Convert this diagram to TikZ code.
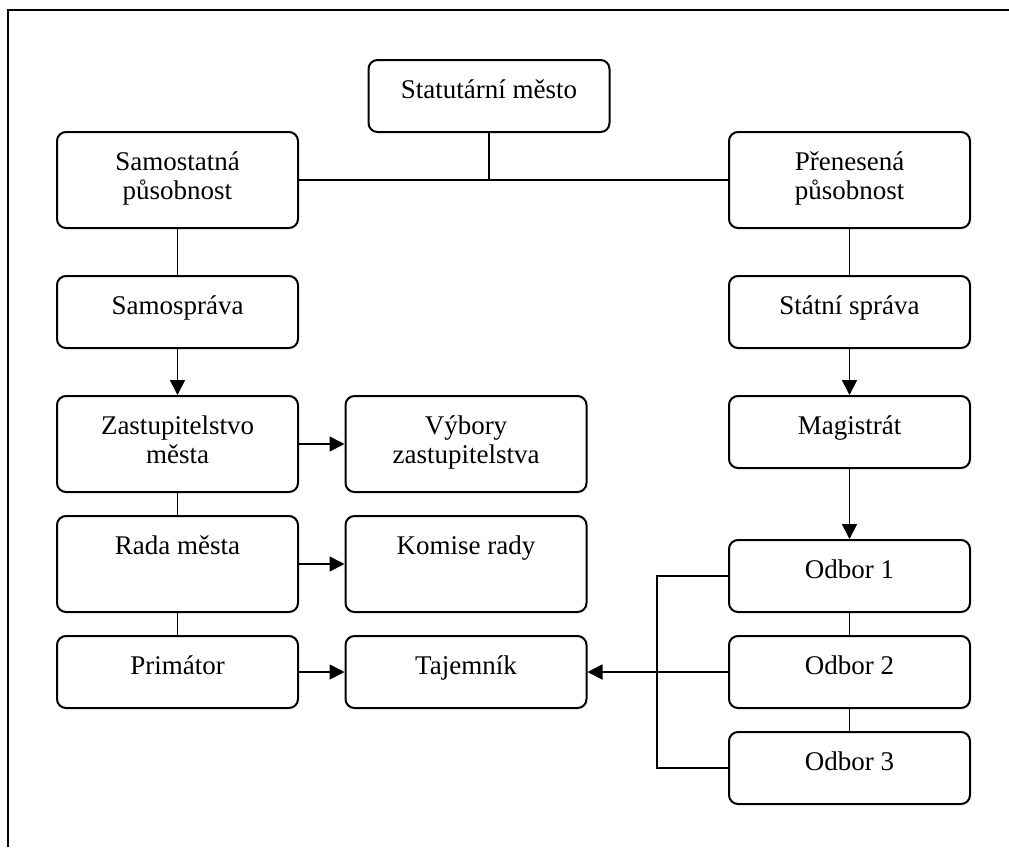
\documentclass[tikz,border=0pt]{standalone}
\usepackage{fontspec}
\setmainfont{Liberation Serif}
\usepackage{tikz}
\usetikzlibrary{arrows.meta}

% text set at the top of each box
\newcommand{\boxtxt}[2]{\parbox[c][#1][t]{241pt}{\centering\rule{0pt}{38pt}#2}}

\begin{document}
\begin{tikzpicture}[
  x=1pt, y=-1pt,
  font=\fontsize{27}{29.5}\selectfont,
  orgbox/.style={draw=black, line width=2pt, rounded corners=9pt, fill=white, inner sep=0pt},
  link/.style={line width=1.8pt},
  arr/.style={line width=1.8pt, -{Triangle[length=15pt, width=15pt]}}
]
  \useasboundingbox (0,0) rectangle (1009,847);

  % outer frame
  \draw[line width=2pt] (8,847) -- (8,10) -- (1009,10);

  % top
  \node[orgbox] (stat) at (489,96) {\boxtxt{72pt}{Statutární město}};
  \node[orgbox] (samost) at (177.5,180) {\boxtxt{96pt}{Samostatná\\působnost}};
  \node[orgbox] (pren) at (849.5,180) {\boxtxt{96pt}{Přenesená\\působnost}};

  % left column
  \node[orgbox] (samosp) at (177.5,312) {\boxtxt{72pt}{Samospráva}};
  \node[orgbox] (zast) at (177.5,444) {\boxtxt{96pt}{Zastupitelstvo\\města}};
  \node[orgbox] (rada) at (177.5,564) {\boxtxt{96pt}{Rada města}};
  \node[orgbox] (prim) at (177.5,672) {\boxtxt{72pt}{Primátor}};

  % middle column
  \node[orgbox] (vybory) at (466,444) {\boxtxt{96pt}{Výbory\\zastupitelstva}};
  \node[orgbox] (komise) at (466,564) {\boxtxt{96pt}{Komise rady}};
  \node[orgbox] (tajem) at (466,672) {\boxtxt{72pt}{Tajemník}};

  % right column
  \node[orgbox] (statsp) at (849.5,312) {\boxtxt{72pt}{Státní správa}};
  \node[orgbox] (magis) at (849.5,432) {\boxtxt{72pt}{Magistrát}};
  \node[orgbox] (odb1) at (849.5,576) {\boxtxt{72pt}{Odbor 1}};
  \node[orgbox] (odb2) at (849.5,672) {\boxtxt{72pt}{Odbor 2}};
  \node[orgbox] (odb3) at (849.5,768) {\boxtxt{72pt}{Odbor 3}};

  % connectors
  \draw[link] (samost.east) -- (pren.west);
  \draw[link] (stat.south) -- (stat.south |- samost.east);
  \draw[link] (samost.south) -- (samosp.north);
  \draw[arr] (samosp.south) -- (zast.north);
  \draw[arr] (zast.east) -- (vybory.west);
  \draw[link] (zast.south) -- (rada.north);
  \draw[arr] (rada.east) -- (komise.west);
  \draw[link] (rada.south) -- (prim.north);
  \draw[arr] (prim.east) -- (tajem.west);

  \draw[link] (pren.south) -- (statsp.north);
  \draw[arr] (statsp.south) -- (magis.north);
  \draw[arr] (magis.south) -- (odb1.north);
  \draw[link] (odb1.south) -- (odb2.north);
  \draw[link] (odb2.south) -- (odb3.north);

  % bracket of the departments
  \coordinate (brtop) at (657,576);
  \coordinate (brbot) at (657,768);
  \draw[link] (odb1.west) -- (brtop) -- (brbot) -- (odb3.west);
  \draw[arr] (odb2.west) -- (tajem.east);
\end{tikzpicture}
\end{document}
